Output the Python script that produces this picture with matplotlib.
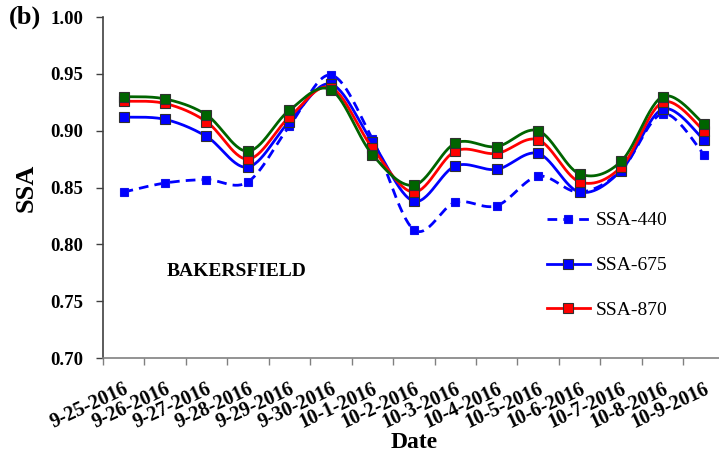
import numpy as np
import matplotlib
matplotlib.use("Agg")
import matplotlib.pyplot as plt
from matplotlib.lines import Line2D

dates = ["9-25-2016", "9-26-2016", "9-27-2016", "9-28-2016", "9-29-2016",
         "9-30-2016", "10-1-2016", "10-2-2016", "10-3-2016", "10-4-2016",
         "10-5-2016", "10-6-2016", "10-7-2016", "10-8-2016", "10-9-2016"]

ssa_440 = [0.846, 0.854, 0.857, 0.855, 0.904, 0.949, 0.893, 0.813,
           0.837, 0.834, 0.860, 0.846, 0.865, 0.915, 0.879]
ssa_675 = [0.912, 0.910, 0.895, 0.868, 0.908, 0.941, 0.890, 0.838,
           0.869, 0.866, 0.880, 0.846, 0.865, 0.919, 0.892]
ssa_870 = [0.926, 0.924, 0.908, 0.875, 0.912, 0.938, 0.885, 0.846,
           0.882, 0.880, 0.892, 0.855, 0.868, 0.925, 0.900]
ssa_1020 = [0.930, 0.928, 0.914, 0.882, 0.918, 0.936, 0.879, 0.852,
            0.889, 0.886, 0.900, 0.862, 0.873, 0.930, 0.906]

yticks = [0.70, 0.75, 0.80, 0.85, 0.90, 0.95, 1.00]

SERIF = ["Liberation Serif", "DejaVu Serif"]
plt.rcParams["font.family"] = SERIF


def smooth(x, y, n=30):
    """Bezier smoothing through every point (Catmull-Rom style control points)."""
    x = np.asarray(x, float)
    y = np.asarray(y, float)
    px = np.concatenate([[x[0]], x, [x[-1]]])
    py = np.concatenate([[y[0]], y, [y[-1]]])
    xs, ys = [], []
    t = np.linspace(0, 1, n)
    for i in range(1, len(px) - 2):
        p0 = np.array([px[i], py[i]])
        p3 = np.array([px[i + 1], py[i + 1]])
        c1 = p0 + (np.array([px[i + 1], py[i + 1]]) - np.array([px[i - 1], py[i - 1]])) / 6
        c2 = p3 - (np.array([px[i + 2], py[i + 2]]) - np.array([px[i], py[i]])) / 6
        b = ((1 - t) ** 3)[:, None] * p0 + (3 * (1 - t) ** 2 * t)[:, None] * c1 \
            + (3 * (1 - t) * t ** 2)[:, None] * c2 + (t ** 3)[:, None] * p3
        xs.append(b[:, 0])
        ys.append(b[:, 1])
    return np.concatenate(xs), np.concatenate(ys)


fig = plt.figure(figsize=(7.19, 4.57), dpi=100)
ax = fig.add_axes([0.143, 0.2166, 0.865, 0.746])

x = np.arange(len(dates))

series = [
    (ssa_440, "#0000ff", "#1010ee", (0, (3.5, 2.2)), 6.0, "SSA-440"),
    (ssa_675, "#0000ff", "#303030", "-", 7.0, "SSA-675"),
    (ssa_870, "#ff0000", "#303030", "-", 7.0, "SSA-870"),
    (ssa_1020, "#006400", "#303030", "-", 7.0, None),
]

handles = []
for k, (vals, col, edge, ls, ms, lab) in enumerate(series):
    sx, sy = smooth(x, vals)
    ax.plot(sx, sy, color=col, lw=2.0, ls=ls, zorder=2 + k)
    ax.plot(x, vals, ls="none", marker="s", ms=ms, mfc=col, mec=edge,
            mew=0.8, zorder=2 + k)
    if lab:
        handles.append(Line2D([], [], color=col, lw=2.0, ls=ls, marker="s",
                              ms=ms, mfc=col, mec=edge, mew=0.8, label=lab))

ax.set_xlim(-0.5, len(dates) - 0.5)
ax.set_ylim(0.70, 1.00)
ax.set_yticks(yticks)
ax.set_yticklabels([f"{v:.2f}" for v in yticks], fontsize=13.5, fontweight="bold")

ax.set_xticks(x)
ax.set_xticklabels(dates, fontsize=14.5, fontweight="bold", rotation=25,
                   ha="right", va="top", rotation_mode="anchor")
ax.set_xticks(np.arange(-0.5, len(dates), 1.0), minor=True)
ax.tick_params(axis="x", which="major", length=0, pad=15)
ax.tick_params(axis="x", which="minor", length=5, width=1, color="#808080",
               direction="out")
ax.tick_params(axis="y", length=5, width=1, color="#404040", direction="out", pad=9)

for s in ("top", "right"):
    ax.spines[s].set_visible(False)
ax.spines["left"].set_color("#404040")
ax.spines["bottom"].set_color("#808080")
ax.spines["left"].set_linewidth(1.2)
ax.spines["bottom"].set_linewidth(1.2)

ax.set_ylabel("SSA", fontsize=19, fontweight="bold", labelpad=9)
ax.set_xlabel("Date", fontsize=17, fontweight="bold", labelpad=0)

ax.text(1.05, 0.776, "BAKERSFIELD", fontsize=14, fontweight="bold",
        ha="left", va="center")
fig.text(0.012, 0.962, "(b)", fontsize=19, fontweight="bold", ha="left", va="center")

leg = ax.legend(handles=handles, loc="upper left", bbox_to_anchor=(0.686, 0.48),
                frameon=False, fontsize=14, handlelength=2.2, labelspacing=1.4,
                handletextpad=0.3)

fig.savefig("out.png", dpi=100)
